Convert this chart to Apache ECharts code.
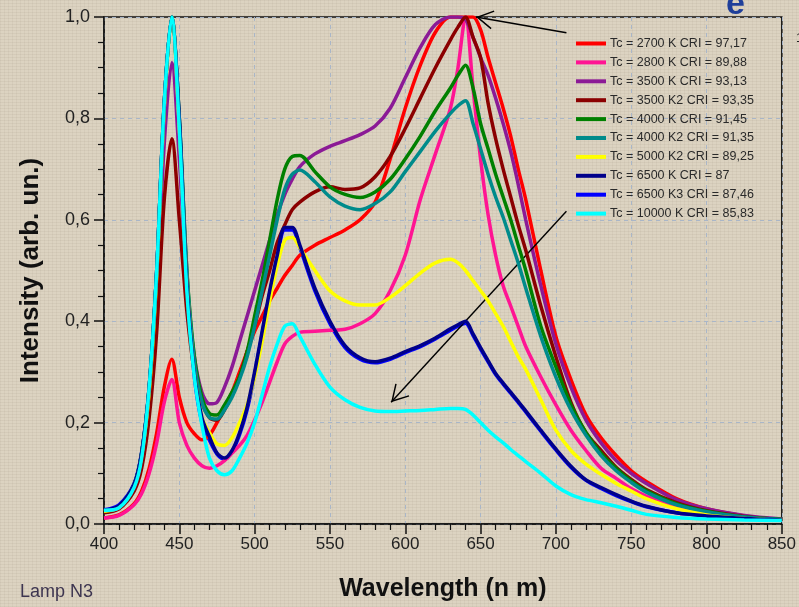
<!DOCTYPE html>
<html><head><meta charset="utf-8">
<script src="https://cdn.jsdelivr.net/npm/echarts@6/dist/echarts.min.js"></script>
<style>
html,body{margin:0;padding:0;}
body{background-color:#dcd3c1;background-image:repeating-linear-gradient(0deg,rgba(110,95,75,0.07) 0 1px,transparent 1px 3px),repeating-linear-gradient(90deg,rgba(110,95,75,0.06) 0 1px,transparent 1px 4px);}
#c{width:799px;height:607px;}
</style>
</head><body><div id="c"></div>
<script>
const wavelengths = [400,410,420,425,430,435,440,445,450,455,460,465,470,475,480,485,490,495,500,505,510,515,520,525,530,540,550,560,570,580,590,600,610,620,630,635,640,645,650,655,660,665,670,675,680,690,700,710,720,730,740,750,760,780,800,825,850];
const tc2700 = [0.012,0.018,0.04,0.065,0.11,0.18,0.27,0.325,0.25,0.2,0.178,0.166,0.175,0.2,0.23,0.26,0.3,0.34,0.38,0.41,0.44,0.465,0.49,0.51,0.53,0.55,0.565,0.58,0.6,0.635,0.72,0.82,0.905,0.97,1.0,1.0,1.0,1.0,0.975,0.92,0.87,0.82,0.765,0.70,0.64,0.5,0.37,0.285,0.215,0.17,0.135,0.105,0.084,0.05,0.03,0.016,0.008];
const tc2800 = [0.012,0.017,0.038,0.06,0.1,0.16,0.24,0.285,0.2,0.155,0.13,0.115,0.11,0.115,0.125,0.14,0.155,0.175,0.205,0.24,0.28,0.32,0.355,0.37,0.378,0.38,0.382,0.384,0.395,0.415,0.46,0.53,0.64,0.73,0.82,0.9,1.0,0.86,0.72,0.61,0.53,0.47,0.43,0.39,0.35,0.29,0.235,0.185,0.145,0.11,0.09,0.07,0.055,0.035,0.022,0.013,0.008];
const tc3500 = [0.025,0.035,0.075,0.13,0.25,0.45,0.75,0.91,0.72,0.47,0.33,0.26,0.237,0.24,0.27,0.31,0.36,0.41,0.46,0.51,0.56,0.61,0.65,0.68,0.705,0.73,0.745,0.756,0.768,0.785,0.82,0.88,0.94,0.985,1.0,1.0,0.995,0.96,0.92,0.885,0.84,0.79,0.735,0.67,0.6,0.47,0.355,0.27,0.205,0.16,0.125,0.1,0.08,0.048,0.03,0.017,0.01];
const tc3500k2 = [0.022,0.03,0.065,0.11,0.21,0.38,0.64,0.76,0.6,0.42,0.3,0.24,0.21,0.205,0.225,0.255,0.29,0.34,0.39,0.45,0.5,0.555,0.59,0.62,0.635,0.655,0.665,0.66,0.663,0.685,0.725,0.78,0.84,0.9,0.955,0.98,1.0,0.96,0.92,0.83,0.76,0.7,0.645,0.59,0.54,0.43,0.33,0.24,0.18,0.145,0.112,0.088,0.068,0.042,0.026,0.015,0.009];
const tc4000 = [0.025,0.035,0.078,0.14,0.27,0.5,0.83,1.0,0.8,0.5,0.33,0.25,0.218,0.215,0.235,0.26,0.29,0.34,0.41,0.48,0.56,0.64,0.70,0.725,0.727,0.695,0.665,0.65,0.644,0.655,0.68,0.72,0.765,0.815,0.86,0.885,0.905,0.86,0.79,0.74,0.69,0.645,0.6,0.55,0.5,0.39,0.31,0.235,0.18,0.14,0.11,0.085,0.066,0.04,0.025,0.014,0.009];
const tc4000k2 = [0.025,0.035,0.078,0.14,0.27,0.5,0.83,1.0,0.8,0.5,0.32,0.24,0.21,0.207,0.225,0.25,0.285,0.33,0.39,0.46,0.53,0.6,0.66,0.69,0.698,0.675,0.645,0.627,0.62,0.632,0.655,0.695,0.735,0.775,0.81,0.825,0.835,0.79,0.74,0.69,0.645,0.605,0.56,0.515,0.465,0.37,0.29,0.225,0.175,0.135,0.105,0.082,0.063,0.038,0.024,0.014,0.009];
const tc5000k2 = [0.025,0.033,0.075,0.135,0.26,0.49,0.82,1.0,0.78,0.48,0.3,0.21,0.18,0.158,0.155,0.17,0.2,0.235,0.29,0.36,0.44,0.51,0.56,0.565,0.545,0.5,0.46,0.44,0.432,0.432,0.447,0.47,0.495,0.515,0.522,0.515,0.5,0.48,0.46,0.44,0.415,0.39,0.36,0.33,0.305,0.245,0.185,0.145,0.118,0.098,0.08,0.065,0.05,0.03,0.018,0.011,0.008];
const tc6500 = [0.027,0.036,0.078,0.14,0.27,0.5,0.83,1.0,0.8,0.48,0.3,0.21,0.172,0.14,0.13,0.145,0.18,0.23,0.3,0.38,0.46,0.53,0.585,0.585,0.55,0.465,0.4,0.352,0.328,0.32,0.327,0.34,0.352,0.367,0.385,0.393,0.4,0.375,0.348,0.322,0.297,0.278,0.26,0.242,0.223,0.185,0.148,0.114,0.087,0.072,0.058,0.045,0.035,0.022,0.016,0.011,0.008];
const tc6500k3 = [0.028,0.038,0.08,0.142,0.27,0.5,0.83,1.0,0.79,0.47,0.29,0.2,0.165,0.138,0.128,0.142,0.176,0.225,0.295,0.375,0.455,0.525,0.58,0.58,0.545,0.46,0.395,0.348,0.325,0.318,0.325,0.338,0.35,0.365,0.382,0.39,0.396,0.372,0.345,0.32,0.295,0.276,0.258,0.24,0.221,0.183,0.146,0.112,0.086,0.07,0.056,0.044,0.034,0.022,0.016,0.011,0.008];
const tc10000 = [0.027,0.032,0.072,0.13,0.27,0.5,0.83,1.0,0.78,0.46,0.29,0.195,0.13,0.105,0.097,0.105,0.13,0.16,0.2,0.255,0.31,0.355,0.39,0.395,0.37,0.315,0.27,0.245,0.23,0.223,0.222,0.223,0.224,0.226,0.228,0.228,0.226,0.215,0.2,0.185,0.172,0.16,0.147,0.135,0.123,0.1,0.075,0.058,0.048,0.042,0.035,0.027,0.019,0.013,0.01,0.008,0.007];

const seriesNames = ['Tc = 2700 K CRI = 97,17','Tc = 2800 K CRI = 89,88','Tc = 3500 K CRI = 93,13','Tc = 3500 K2 CRI = 93,35','Tc = 4000 K CRI = 91,45','Tc = 4000 K2 CRI = 91,35','Tc = 5000 K2 CRI = 89,25','Tc = 6500 K CRI = 87','Tc = 6500 K3 CRI = 87,46','Tc = 10000 K CRI = 85,83'];
const seriesValues = [tc2700,tc2800,tc3500,tc3500k2,tc4000,tc4000k2,tc5000k2,tc6500,tc6500k3,tc10000];
const seriesColors = ['#ff0000','#ff1493','#8b1a96','#8b0000','#008000','#008b8b','#ffff00','#00008b','#0000ff','#00ffff'];
const xTicks = [400,450,500,550,600,650,700,750,800,850];
const yTicks = [0,0.2,0.4,0.6,0.8,1.0];
const arrowTop = [[707,0.969],[647,1.0]];
const arrowBottom = [[707,0.617],[590.6,0.24]];

const chart = echarts.init(document.getElementById('c'), null, {renderer:'canvas'});
// open chevron arrow head, tip at the centre of its box
const arrowHead = 'path://M9.5,-17.2 L9.51,-17.2 L9.5,-17.19 Z M9.5,0 L19,16.5 L17.7,17.2 L9.5,3 L1.3,17.2 L0,16.5 Z';
const series = seriesValues.map((vals,i)=>({
  name: seriesNames[i],
  type: 'line',
  data: wavelengths.map((w,j)=>[w, vals[j]]),
  showSymbol: false,
  smooth: 0.3,
  z: i===8 ? 1 : 2 + i,
  lineStyle: {width: 3.5, color: seriesColors[i]},
  itemStyle: {color: seriesColors[i]},
  emphasis: {disabled: true}
}));
series[0].markLine = {
  silent: true,
  symbol: ['none', arrowHead],
  symbolSize: [19, 34.4],
  label: {show: false},
  lineStyle: {color: '#000', width: 1.4, type: 'solid'},
  emphasis: {disabled: true},
  data: [
    [{coord: arrowTop[0]}, {coord: arrowTop[1]}],
    [{coord: arrowBottom[0]}, {coord: arrowBottom[1]}]
  ]
};

chart.setOption({
  backgroundColor: 'transparent',
  animation: false,
  title: [
    {text: 'Lamp N3', left: 15, top: 578, textStyle: {fontFamily: 'Liberation Sans', fontSize: 18, fontWeight: 'normal', color: '#3d3550'}},
    {text: 'e', left: 721, top: -17, textStyle: {fontFamily: 'Liberation Sans', fontSize: 34, fontWeight: 'bold', color: '#1f3f9a'}},
    {text: '1', left: 791, top: 27, textStyle: {fontFamily: 'Liberation Sans', fontSize: 13, fontWeight: 'normal', color: '#222'}}
  ],
  legend: {
    orient: 'vertical',
    left: 571, top: 32,
    itemWidth: 30, itemHeight: 14, itemGap: 5.9,
    icon: 'path://M0,0 L30,0 L30,4 L0,4 Z',
    data: seriesNames,
    textStyle: {fontFamily: 'Liberation Sans', fontSize: 12.5, color: '#2a2a2a', padding: [0,0,0,-1]},
    selectedMode: false
  },
  grid: {left: 104, right: 15, top: 17, bottom: 81, show: true, borderColor: '#111', borderWidth: 1.5, backgroundColor: 'transparent'},
  xAxis: {
    type: 'value', min: 400, max: 850, interval: 50,
    name: 'Wavelength (n m)', nameLocation: 'middle', nameGap: 53,
    nameTextStyle: {fontFamily: 'Liberation Sans', fontSize: 25, fontWeight: 'bold', color: '#111'},
    axisLine: {show: true, lineStyle: {color: '#111', width: 1.5}},
    axisTick: {show: true, inside: false, length: 10, lineStyle: {color: '#111', width: 1.5}},
    minorTick: {show: true, splitNumber: 5, length: 6, lineStyle: {color: '#111', width: 1.2}},
    axisLabel: {margin: 12, fontFamily: 'Liberation Sans', fontSize: 17, color: '#222', formatter: v => xTicks.includes(v) ? String(v) : ''},
    splitLine: {show: true, lineStyle: {color: '#a9b6c8', type: [4,4], width: 1}}
  },
  yAxis: {
    type: 'value', min: 0, max: 1, interval: 0.2,
    name: 'Intensity (arb. un.)', nameLocation: 'middle', nameGap: 60,
    nameTextStyle: {fontFamily: 'Liberation Sans', fontSize: 26, fontWeight: 'bold', color: '#111'},
    axisLine: {show: true, lineStyle: {color: '#111', width: 1.5}},
    axisTick: {show: true, inside: false, length: 10, lineStyle: {color: '#111', width: 1.5}},
    minorTick: {show: true, splitNumber: 4, length: 6, lineStyle: {color: '#111', width: 1.2}},
    axisLabel: {margin: 14, fontFamily: 'Liberation Sans', fontSize: 18, color: '#222', formatter: v => yTicks.some(t=>Math.abs(t-v)<1e-9) ? v.toFixed(1).replace('.', ',') : ''},
    splitLine: {show: true, lineStyle: {color: '#a9b6c8', type: [4,4], width: 1}}
  },
  series: series
});
</script>
</body></html>
